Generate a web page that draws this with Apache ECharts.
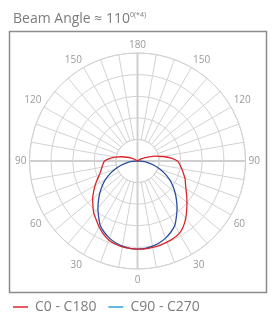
<!DOCTYPE html>
<html>
<head>
<meta charset="utf-8">
<script src="https://cdn.jsdelivr.net/npm/echarts@6/dist/echarts.min.js"></script>
<style>html,body{margin:0;padding:0;background:#fff}#c{width:275px;height:320px}</style>
</head>
<body>
<div id="c"></div>
<script>
// Gamma angles (degrees from nadir) and intensities (arbitrary units, outer ring = 500)
const gammaRed = [0, 5, 10, 15, 20, 25, 30, 35, 40, 45, 50, 55, 60, 65, 70, 75, 80, 85, 90, 95, 100, 105, 110, 115, 120, 125, 130];
const redRightC0 = [408, 408, 406, 404, 400, 395, 387, 370, 347, 322, 299, 278, 259, 245, 234, 220, 208, 197, 185, 157, 120, 86, 56, 35, 19, 7, 0];
const redLeftC180 = [408, 406, 404, 398, 389, 373, 354, 333, 315, 292, 271, 248, 227, 206, 188, 176, 167, 160, 153, 130, 104, 76, 51, 32, 16, 6, 0];
const gammaBlue = [0, 5, 10, 15, 20, 25, 30, 35, 40, 45, 50, 55, 60, 65, 70, 75, 80, 85, 90];
const blueC90 = [408, 406, 400, 392, 380, 364, 345, 314, 285, 255, 227, 199, 171, 141, 111, 81, 51, 25, 0];
const blueC270 = [408, 406, 400, 392, 380, 364, 345, 314, 285, 255, 227, 199, 171, 141, 111, 81, 51, 25, 0];
const ringValues = [100, 200, 300, 400, 500];
const angleLabels = [0, 30, 60, 90, 120, 150, 180];
const seriesNames = ['C0 - C180', 'C90 - C270'];

// Build closed polar paths: left side angle = gamma, right side angle = 360 - gamma
function path(left, right, gam) {
  const pts = [];
  for (let i = 0; i < gam.length; i++) pts.push([left[i], gam[i]]);
  for (let i = gam.length - 1; i >= 0; i--) pts.push([right[i], 360 - gam[i]]);
  return pts;
}

const chart = echarts.init(document.getElementById('c'));
const grey = '#d2d2d2';
chart.setOption({
  animation: false,
  title: {
    left: 8, top: 6,
    text: '{a|Beam Angle ≈ 110}{b|0(*4)}',
    textStyle: {
      fontWeight: 'normal',
      rich: {
        a: {fontFamily: 'Open Sans', fontSize: 14, fontWeight: 'normal', color: '#7c7c7c'},
        b: {fontFamily: 'Open Sans', fontSize: 7, fontWeight: 'normal', color: '#7c7c7c', verticalAlign: 'top', padding: [0, 0, 10, 0]}
      }
    }
  },
  legend: {
    left: 8, top: 295,
    icon: 'rect', itemWidth: 15, itemHeight: 1.5, itemGap: 12,
    textStyle: {fontFamily: 'Open Sans', fontSize: 14, color: '#7c7c7c', padding: [0, 0, 0, 2]},
    data: [
      {name: seriesNames[0], itemStyle: {color: '#d8262b'}},
      {name: seriesNames[1], itemStyle: {color: '#2aa3dc'}}
    ]
  },
  graphic: [{
    type: 'rect', shape: {x: 9.5, y: 31.5, width: 257, height: 261},
    style: {fill: 'none', stroke: '#8c8c8c', lineWidth: 1.5}, z: 100
  }],
  polar: [
    {center: [137.5, 161], radius: [21.6, 108]},
    {center: [137.5, 161], radius: [0, 108]}
  ],
  angleAxis: [
    {
      polarIndex: 0, type: 'value', min: 0, max: 360, interval: 10, startAngle: 270, clockwise: true,
      axisLine: {show: true, lineStyle: {color: grey, width: 1}},
      axisTick: {show: false},
      splitLine: {show: true, lineStyle: {color: grey, width: 1}},
      axisLabel: {
        margin: 3, padding: [3, 0, 0, 0], color: '#9a9a9a', fontFamily: 'Open Sans', fontSize: 10,
        formatter: function (v) {
          if (v === 360) return '';
          const g = v <= 180 ? v : 360 - v;
          return angleLabels.indexOf(g) >= 0 && v % 30 === 0 ? String(g) : '';
        }
      }
    },
    {
      polarIndex: 1, type: 'value', min: 0, max: 360, interval: 90, startAngle: 270, clockwise: true,
      axisLine: {show: false}, axisTick: {show: false}, axisLabel: {show: false},
      splitLine: {show: true, lineStyle: {color: '#cfcfcf', width: 2}}
    }
  ],
  radiusAxis: [
    {
      polarIndex: 0, min: ringValues[0], max: ringValues[ringValues.length - 1], interval: 100,
      axisLine: {show: false}, axisTick: {show: false}, axisLabel: {show: false},
      splitLine: {show: true, lineStyle: {color: grey, width: 1}}
    },
    {
      polarIndex: 1, min: 0, max: 500,
      axisLine: {show: false}, axisTick: {show: false}, axisLabel: {show: false},
      splitLine: {show: false}
    }
  ],
  series: [
    {
      name: seriesNames[1], type: 'line', coordinateSystem: 'polar', polarIndex: 1,
      data: path(blueC270, blueC90, gammaBlue), smooth: 0.2, symbol: 'none',
      lineStyle: {color: '#2b4f9c', width: 1.3}, itemStyle: {color: '#2aa3dc'}, z: 3
    },
    {
      name: seriesNames[0], type: 'line', coordinateSystem: 'polar', polarIndex: 1,
      data: path(redLeftC180, redRightC0, gammaRed), smooth: 0.2, symbol: 'none',
      lineStyle: {color: '#d8262b', width: 1.3}, itemStyle: {color: '#d8262b'}, z: 4
    }
  ]
});
</script>
</body>
</html>
